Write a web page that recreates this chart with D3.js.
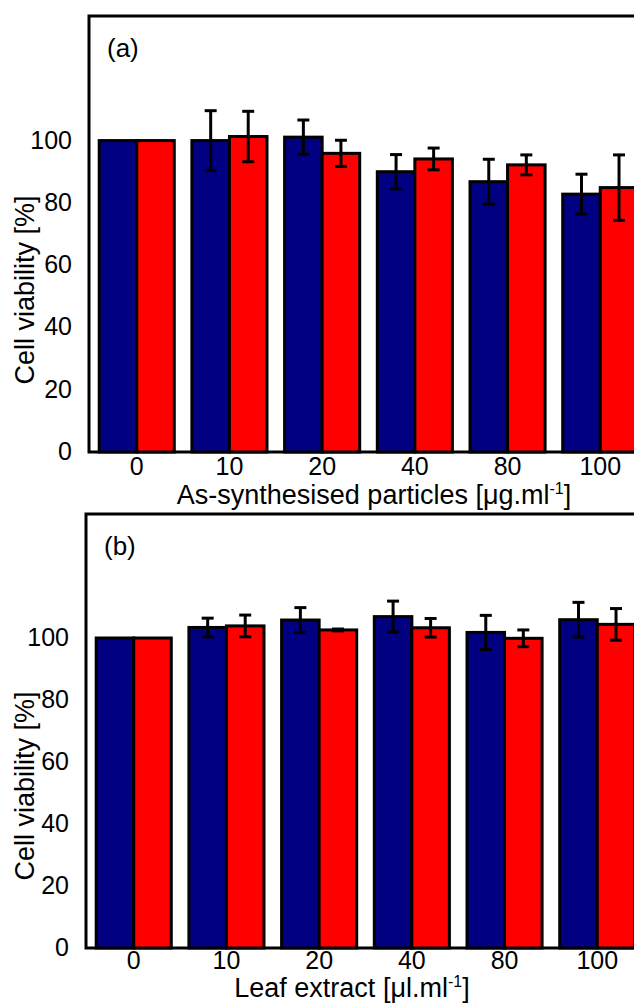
<!DOCTYPE html>
<html>
<head>
<meta charset="utf-8">
<script src="https://cdn.jsdelivr.net/npm/d3@7"></script>
<style>
  body { margin: 0; background: #fff; }
  text { font-family: Arial, "Liberation Sans", sans-serif; fill: #000; }
</style>
</head>
<body>
<script>
var doses = ["0", "10", "20", "40", "80", "100"];
var yTicks = [0, 20, 40, 60, 80, 100];

// panel (a): as-synthesised particles
var particlesBlue = [100, 100, 101.1, 90, 86.8, 82.8];
var particlesBlueErr = [0, 9.6, 5.5, 5.5, 7.2, 6.4];
var particlesRed = [100, 101.3, 95.9, 94.1, 92.2, 84.9];
var particlesRedErr = [0, 8.1, 4.2, 3.5, 3.2, 10.5];

// panel (b): leaf extract
var leafBlue = [100, 103.4, 105.8, 106.9, 101.8, 105.9];
var leafBlueErr = [0, 3, 4, 5, 5.5, 5.6];
var leafRed = [100, 103.9, 102.6, 103.3, 99.9, 104.4];
var leafRedErr = [0, 3.5, 0.3, 3, 2.7, 5.1];

var w = 634;
var h = 1004;
var colours = {blue: "#000080", red: "#ff0000"};

var svg = d3.select("body")
  .append("svg")
  .attr("width", w)
  .attr("height", h);

var plot = function(svg, opts){

  var data = doses.map(function(d, i){
    return {
      dose: d,
      bars: [
        {key: "blue", value: opts.blue[i], err: opts.blueErr[i]},
        {key: "red", value: opts.red[i], err: opts.redErr[i]}
      ]
    };
  });

  var xScale = d3.scaleBand()
    .domain(doses)
    .range([opts.left, opts.left + 559])
    .paddingInner(0.19)
    .paddingOuter(0.11);

  var xInner = d3.scaleBand()
    .domain(["blue", "red"])
    .range([0, xScale.bandwidth()]);

  var yScale = d3.scaleLinear()
    .domain([0, 140])
    .range([opts.bottom, opts.top]);

  var g = svg.append("g");

  // frame
  g.append("path")
    .attr("d", "M" + (w + 20) + "," + opts.top + "H" + opts.left + "V" + opts.bottom + "H" + (w + 20))
    .attr("fill", "none")
    .attr("stroke", "#000")
    .attr("stroke-width", 3);

  var groups = g.selectAll(".grp")
    .data(data)
    .enter()
    .append("g")
    .attr("class", "grp")
    .attr("transform", function(d){
      return "translate(" + xScale(d.dose) + ",0)";
    });

  groups.selectAll("rect")
    .data(function(d){ return d.bars; })
    .enter()
    .append("rect")
    .attr("x", function(d){ return xInner(d.key); })
    .attr("width", xInner.bandwidth())
    .attr("y", function(d){ return yScale(d.value); })
    .attr("height", function(d){ return yScale(0) - yScale(d.value); })
    .attr("fill", function(d){ return colours[d.key]; })
    .attr("stroke", "#000")
    .attr("stroke-width", 3);

  var err = groups.selectAll(".err")
    .data(function(d){ return d.bars.filter(function(b){ return b.err > 0; }); })
    .enter()
    .append("g")
    .attr("class", "err")
    .attr("stroke", "#000")
    .attr("stroke-width", 3)
    .attr("transform", function(d){
      return "translate(" + (xInner(d.key) + xInner.bandwidth() / 2) + ",0)";
    });

  err.append("line")
    .attr("x1", 0).attr("x2", 0)
    .attr("y1", function(d){ return yScale(d.value + d.err); })
    .attr("y2", function(d){ return yScale(d.value - d.err); });

  err.selectAll(".cap")
    .data(function(d){ return [d.value + d.err, d.value - d.err]; })
    .enter()
    .append("line")
    .attr("x1", -6).attr("x2", 6)
    .attr("y1", function(v){ return yScale(v); })
    .attr("y2", function(v){ return yScale(v); });

  // y tick labels
  g.selectAll(".ytick")
    .data(yTicks)
    .enter()
    .append("text")
    .attr("x", opts.left - 17)
    .attr("y", function(d){ return yScale(d); })
    .attr("dy", "0.32em")
    .attr("text-anchor", "end")
    .style("font-size", "25px")
    .text(function(d){ return d; });

  // x tick labels
  g.selectAll(".xtick")
    .data(doses)
    .enter()
    .append("text")
    .attr("x", function(d){ return xScale(d) + xScale.bandwidth() / 2; })
    .attr("y", opts.bottom + opts.tickGap)
    .attr("text-anchor", "middle")
    .style("font-size", "25px")
    .text(function(d){ return d; });

  var xt = g.append("text")
    .attr("x", opts.titleX)
    .attr("y", opts.bottom + opts.titleGap)
    .attr("text-anchor", "middle")
    .style("font-size", "27px");
  xt.append("tspan").text(opts.xTitle);
  xt.append("tspan").attr("dy", -10).style("font-size", "16px").text("-1");
  xt.append("tspan").attr("dy", 10).text("]");

  g.append("text")
    .attr("transform", "translate(" + 34 + "," + (opts.bottom - 162) + ") rotate(-90)")
    .attr("text-anchor", "middle")
    .style("font-size", "27px")
    .text("Cell viability [%]");

  g.append("text")
    .attr("x", opts.left + 18)
    .attr("y", opts.top + 41)
    .style("font-size", "26px")
    .text(opts.label);
};

plot(svg, {
  left: 89, top: 16, bottom: 452, titleX: 374, tickGap: 23, titleGap: 52,
  blue: particlesBlue, blueErr: particlesBlueErr,
  red: particlesRed, redErr: particlesRedErr,
  xTitle: "As-synthesised particles [\u03bcg.ml", label: "(a)"
});

plot(svg, {
  left: 86, top: 514, bottom: 948, titleX: 352, tickGap: 21, titleGap: 49,
  blue: leafBlue, blueErr: leafBlueErr,
  red: leafRed, redErr: leafRedErr,
  xTitle: "Leaf extract [\u03bcl.ml", label: "(b)"
});
</script>
</body>
</html>
